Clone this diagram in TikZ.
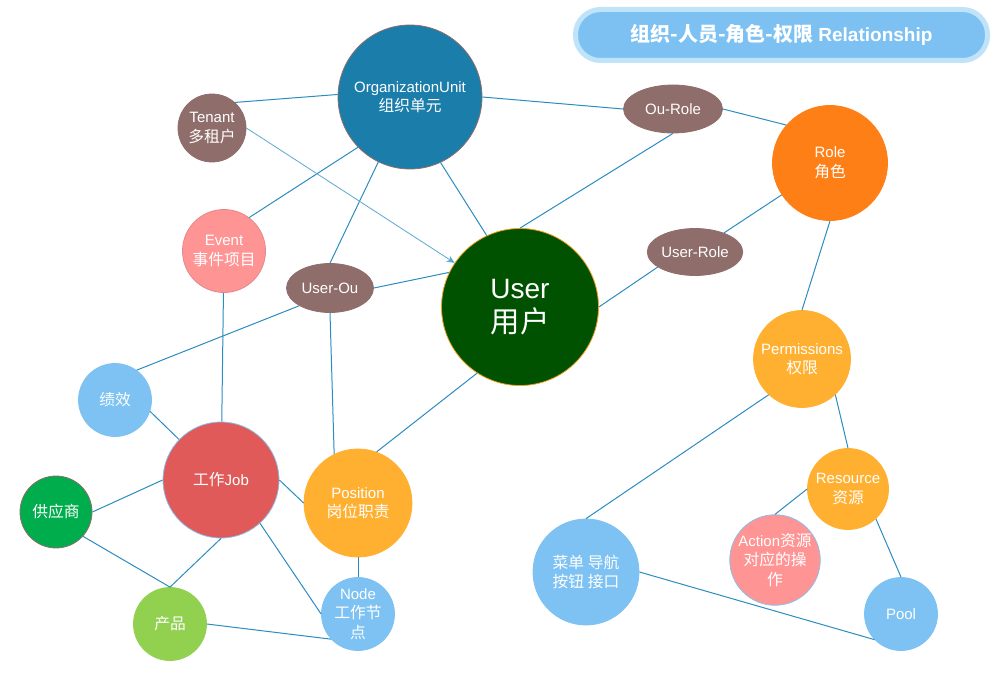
\documentclass[tikz,border=0pt]{standalone}
\usepackage{fontspec}
\setmainfont{Liberation Sans}
\newfontfamily\cjk[Scale=1.05]{Noto Sans CJK SC}
\usetikzlibrary{shapes.geometric,arrows.meta}
\definecolor{oublue}{HTML}{1B7DAA}
\definecolor{oubrown}{HTML}{8C6E6E}
\definecolor{rolebrown}{HTML}{8F6D6B}
\definecolor{salmon}{HTML}{FF9494}
\definecolor{salmonedge}{HTML}{E08A8A}
\definecolor{usergreen}{HTML}{005200}
\definecolor{userorange}{HTML}{F0A020}
\definecolor{roleorange}{HTML}{FF7F17}
\definecolor{amber}{HTML}{FFB030}
\definecolor{sky}{HTML}{7DC2F2}
\definecolor{skyedge}{HTML}{8DBFEA}
\definecolor{jobred}{HTML}{E05A5A}
\definecolor{supplygreen}{HTML}{00AD4C}
\definecolor{leaf}{HTML}{92D050}
\definecolor{linkblue}{HTML}{2A8CBF}
\definecolor{arrowblue}{HTML}{5BA8CF}
\definecolor{titlefill}{HTML}{7CC1F2}
\definecolor{titleedge}{HTML}{BFE3F8}
\begin{document}
\begin{tikzpicture}[x=1pt, y=-1pt,
  every node/.style={align=center, text=white, font=\fontsize{15}{19.5}\selectfont},
  bubble/.style={circle, inner sep=0pt, minimum size=#1, line width=0.8pt},
  oval/.style={ellipse, inner sep=0pt, fill=rolebrown, draw=rolebrown, line width=0.8pt},
  link/.style={draw=linkblue, line width=1pt}]
  \useasboundingbox (0,0) rectangle (1003,690);
  \node[fill=titlefill, draw=titleedge, line width=5pt, rounded corners=25pt, minimum width=412, minimum height=51, font=\bfseries\fontsize{19}{22}\selectfont] (title) at (781.5,35) {{\cjk 组织-人员-角色-权限} Relationship};

  \node[bubble=144, fill=oublue, draw=oubrown] (ou) at (410,97) {OrganizationUnit\\{\cjk 组织单元}};
  \node[bubble=68, fill=rolebrown, draw=rolebrown] (tenant) at (212,128) {Tenant\\{\cjk 多租户}};
  \node[bubble=83, fill=salmon, draw=salmonedge] (event) at (224,251) {Event\\{\cjk 事件项目}};
  \node[oval, minimum width=87, minimum height=49] (userou) at (330,288) {User-Ou};
  \node[bubble=157, fill=usergreen, draw=userorange, font=\fontsize{28}{34}\selectfont] (user) at (520,307) {User\\{\cjk 用户}};
  \node[oval, minimum width=99, minimum height=48] (ourole) at (673,109) {Ou-Role};
  \node[bubble=115, fill=roleorange, draw=roleorange] (role) at (830,163) {Role\\{\cjk 角色}};
  \node[oval, minimum width=87, minimum height=47] (userrole) at (695,252) {User-Role};
  \node[bubble=97, fill=amber, draw=amber] (perm) at (802,359) {Permissions\\{\cjk 权限}};
  \node[bubble=81, fill=amber, draw=amber] (res) at (848,489) {Resource\\{\cjk 资源}};
  \node[bubble=84, fill=salmon, draw=skyedge] (action) at (775,560) {Action{\cjk 资源}\\{\cjk 对应的操}\\{\cjk 作}};
  \node[bubble=73, fill=sky, draw=sky] (pool) at (901,614) {Pool};
  \node[bubble=106, fill=sky, draw=sky] (menu) at (586,572) {{\cjk 菜单 导航}\\{\cjk 按钮 接口}};
  \node[bubble=73, fill=sky, draw=sky] (jixiao) at (115,400) {{\cjk 绩效}};
  \node[bubble=116, fill=jobred, draw=skyedge] (job) at (221,480) {{\cjk 工作}Job};
  \node[bubble=72, fill=supplygreen, draw=oubrown] (supplier) at (56,512) {{\cjk 供应商}};
  \node[bubble=108, fill=amber, draw=amber] (position) at (358,503) {Position\\{\cjk 岗位职责}};
  \node[bubble=73, fill=leaf, draw=leaf] (product) at (170,624) {{\cjk 产品}};
  \node[bubble=73, fill=sky, draw=sky] (worknode) at (358,614) {Node\\{\cjk 工作节}\\{\cjk 点}};

  \draw[link] (tenant.48) -- (ou.178);
  \draw[link] (ou.east) -- (ourole.west);
  \draw[link] (ourole.east) -- (role.139);
  \draw[link] (ourole.south) -- (user.north);
  \draw[link] (ou.-65) -- (user.115);
  \draw[link] (ou.-136) -- (event.53);
  \draw[link] (ou.-116) -- (userou.north);
  \draw[link, draw=arrowblue, line width=0.8pt, -{Stealth[length=8pt, width=7pt]}] (tenant.east) -- (user.146);
  \draw[link] (userou.east) -- (user.154);
  \draw[link] (userou.-150) -- (jixiao.54);
  \draw[link] (userou.south) -- (position.116);
  \draw[link] (event) -- (job);
  \draw[link] (user.-123) -- (position.70);
  \draw[link] (user.east) -- (userrole.-158);
  \draw[link] (userrole) -- (role);
  \draw[link] (role.south) -- (perm.north);
  \draw[link] (perm.-133) -- (menu.north);
  \draw[link] (perm.-47) -- (res.north);
  \draw[link] (res.west) -- (action.north);
  \draw[link] (res.-47) -- (pool.north);
  \draw[link] (menu.east) -- (pool.-136);
  \draw[link] (jixiao.-18) -- (job.136);
  \draw[link] (job.west) -- (supplier.east);
  \draw[link] (supplier.-42) -- (product.north);
  \draw[link] (job.south) -- (product.north);
  \draw[link] (job.east) -- (position.west);
  \draw[link] (job.-48) -- (worknode.west);
  \draw[link] (position) -- (worknode);
  \draw[link] (product.east) -- (worknode.-137);
\end{tikzpicture}
\end{document}
